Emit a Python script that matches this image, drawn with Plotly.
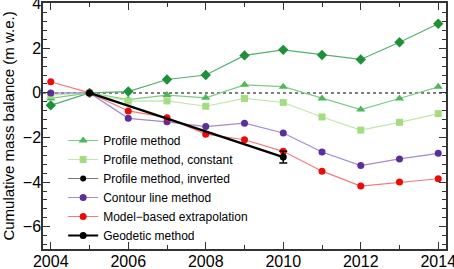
import plotly.graph_objects as go

years = [2004, 2005, 2006, 2007, 2008, 2009, 2010, 2011, 2012, 2013, 2014]

profile = [-0.25, 0.0, -0.3, -0.1, -0.22, 0.36, 0.28, -0.25, -0.75, -0.25, 0.27]
profile_const = [-0.1, 0.0, -0.37, -0.36, -0.6, -0.25, -0.43, -1.08, -1.67, -1.32, -0.93]
profile_inv = [-0.56, 0.0, 0.06, 0.6, 0.8, 1.68, 1.93, 1.7, 1.5, 2.27, 3.1]
contour = [0.0, 0.0, -1.14, -1.3, -1.51, -1.36, -1.8, -2.65, -3.26, -2.96, -2.71]
model = [0.5, 0.0, -0.81, -1.11, -1.85, -2.1, -2.62, -3.51, -4.18, -4.0, -3.85]

geo_years = [2005, 2010]
geo_vals = [0.0, -2.88]
geo_err = [0.0, 0.26]

FONT = "Liberation Sans, Arial, sans-serif"

fig = go.Figure()

fig.add_trace(go.Scatter(x=years, y=profile_inv, mode="lines+markers", showlegend=False,
                         line=dict(color="#55b06c", width=1.2),
                         marker=dict(symbol="diamond", size=8, color="#1e9038")))
fig.add_trace(go.Scatter(x=years, y=profile, mode="lines+markers", name="Profile method",
                         line=dict(color="#7ecb84", width=1.2),
                         marker=dict(symbol="triangle-up", size=8, color="#4cb85a")))
fig.add_trace(go.Scatter(x=years, y=profile_const, mode="lines+markers", name="Profile method, constant",
                         line=dict(color="#c0e8a8", width=1.2),
                         marker=dict(symbol="square", size=7, color="#a4dc82")))
fig.add_trace(go.Scatter(x=[None], y=[None], mode="lines+markers", name="Profile method, inverted",
                         line=dict(color="#777777", width=1.2),
                         marker=dict(symbol="circle", size=6, color="black")))
fig.add_trace(go.Scatter(x=years, y=contour, mode="lines+markers", name="Contour line method",
                         line=dict(color="#a48ad0", width=1.2),
                         marker=dict(symbol="circle", size=7, color="#5c2d9c")))
fig.add_trace(go.Scatter(x=years, y=model, mode="lines+markers", name="Model\u2212based extrapolation",
                         line=dict(color="#f47a7a", width=1.2),
                         marker=dict(symbol="circle", size=7, color="#ee0a0a")))
fig.add_trace(go.Scatter(x=geo_years, y=geo_vals, mode="lines+markers", name="Geodetic method",
                         line=dict(color="black", width=2.2),
                         marker=dict(symbol="circle", size=7, color="black"),
                         error_y=dict(type="data", array=geo_err, visible=True,
                                      color="black", thickness=1.5, width=4)))

fig.add_shape(type="line", xref="paper", x0=0, x1=1, yref="y", y0=0, y1=0,
              line=dict(color="#555555", width=1.5, dash="dot"), layer="below")

axis_common = dict(showline=True, linecolor="#333333", linewidth=1.5, mirror="ticks",
                   ticks="inside", ticklen=7, tickwidth=1.2, tickcolor="#333333",
                   showgrid=False, zeroline=False, automargin=False,
                   ticklabeloverflow="allow", ticklabelstandoff=-3,
                   tickfont=dict(family=FONT, size=16, color="black"))

fig.update_xaxes(range=[2003.8, 2014.2], tickmode="linear", tick0=2004, dtick=2,
                 minor=dict(ticks="inside", dtick=1, ticklen=4, tickcolor="#333333", showgrid=False),
                 **axis_common)
fig.update_yaxes(range=[-7, 4.03], tickmode="linear", tick0=0, dtick=2,
                 tickformat="d",
                 minor=dict(ticks="inside", dtick=0.4, tick0=0, ticklen=4, tickcolor="#333333", showgrid=False),
                 title=dict(text="Cumulative mass balance (m w.e.)",
                            font=dict(family=FONT, size=15, color="black")),
                 **axis_common)

fig.update_layout(
    width=454, height=269,
    margin=dict(l=43, r=8, t=3, b=20),
    plot_bgcolor="white", paper_bgcolor="white",
    legend=dict(x=0.05, y=0.50, xanchor="left", yanchor="top", bgcolor="rgba(0,0,0,0)",
                font=dict(family=FONT, size=12, color="black"),
                tracegroupgap=0, itemwidth=30),
    separators=".\u2212",
)

fig.write_html("out.html", config={"displayModeBar": False},
               post_script="document.body.style.margin='0';")
